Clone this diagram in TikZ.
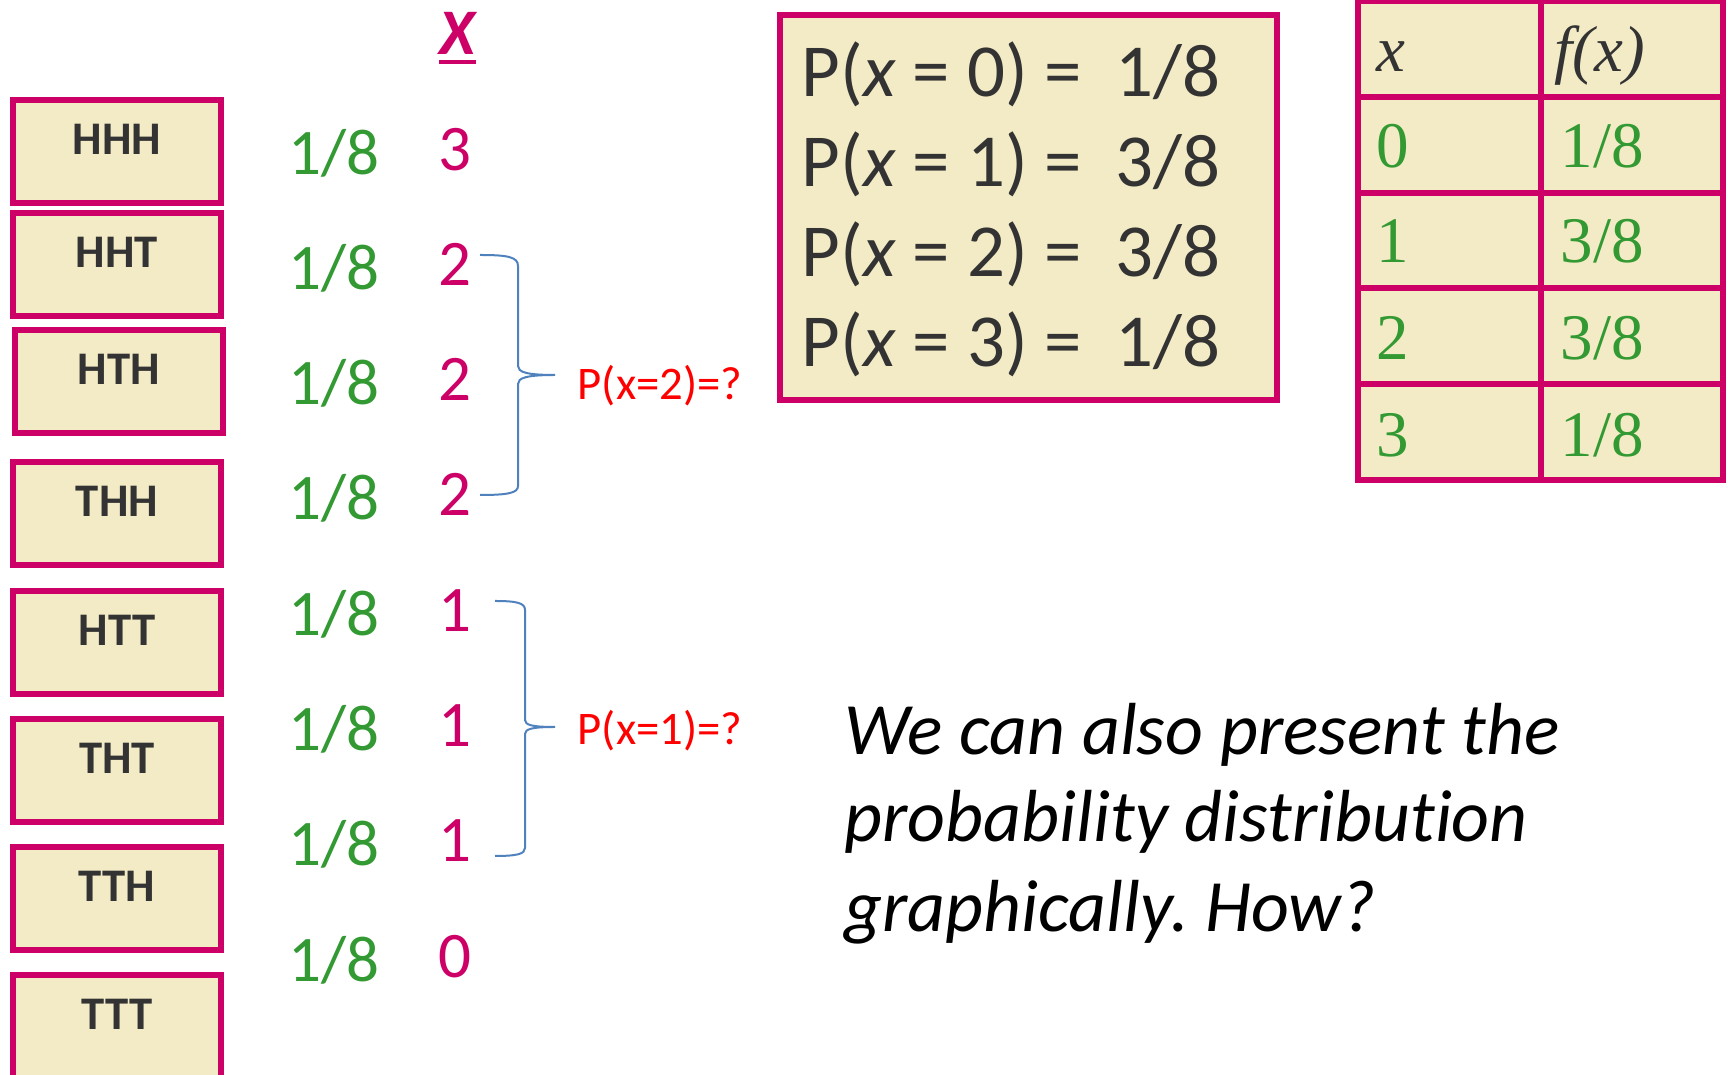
\documentclass[tikz,border=0pt]{standalone}
\usepackage{fontspec}
\setmainfont{Carlito}
\newfontfamily\tabfont{Liberation Serif}
\newfontfamily\sayfont[Ligatures=NoCommon]{Carlito}
\usepackage{tikz}
\definecolor{boxpink}{HTML}{CC0066}
\definecolor{boxfill}{HTML}{F3EBC6}
\definecolor{probgreen}{HTML}{339933}
\definecolor{bracecol}{HTML}{4F81BD}
\definecolor{darktext}{HTML}{333333}

\begin{document}
\frenchspacing
\begin{tikzpicture}[
    outcome/.style={
        draw=boxpink,
        line width=0.06cm,
        fill=boxfill,
        outer sep=0pt,
        minimum width=2.08cm,
        inner ysep=0.1cm,
        text height=0.45cm,
        text depth=0.38cm,
        anchor=north,
        text=darktext,
        font=\fontsize{13.3pt}{16pt}\selectfont\bfseries
    },
    prob/.style={
        anchor=base,
        inner sep=0pt,
        text=probgreen,
        font=\fontsize{18.5pt}{22pt}\selectfont
    },
    xval/.style={
        anchor=base,
        inner sep=0pt,
        text=boxpink,
        font=\fontsize{18.5pt}{22pt}\selectfont
    },
    curly/.style={
        draw=bracecol,
        line width=0.02cm
    },
    qlabel/.style={
        anchor=base west,
        inner sep=0pt,
        text=red,
        font=\fontsize{13.3pt}{16pt}\selectfont
    },
    pline/.style={
        anchor=base west,
        inner sep=0pt,
        text=darktext,
        font=\fontsize{21.3pt}{25pt}\selectfont
    },
    cell/.style={
        anchor=base west,
        inner sep=0pt,
        text=probgreen,
        font=\tabfont\fontsize{18.5pt}{22pt}\selectfont
    },
    say/.style={
        anchor=base west,
        inner sep=0pt,
        font=\sayfont\itshape\fontsize{21pt}{25pt}\selectfont
    }
]

    \useasboundingbox (0,0) rectangle (17.28,-10.75);

    % Outcomes
    \node[outcome] (o1) at (1.17,-1.00) {HHH};
    \node[outcome] (o2) at (1.17,-2.13) {HHT};
    \node[outcome] (o3) at (1.19,-3.30) {HTH};
    \node[outcome] (o4) at (1.17,-4.62) {THH};
    \node[outcome] (o5) at (1.17,-5.91) {HTT};
    \node[outcome] (o6) at (1.17,-7.19) {THT};
    \node[outcome] (o7) at (1.17,-8.47) {TTH};
    \node[outcome] (o8) at (1.17,-9.75) {TTT};

    % Header X
    \node[
        anchor=base,
        inner sep=0pt,
        text=boxpink,
        font=\fontsize{18.5pt}{22pt}\selectfont\bfseries\itshape
    ] (xh) at (4.575,-0.55) {X};
    \draw[
        boxpink,
        line width=0.04cm
    ] ([yshift=-0.07cm]xh.base west) -- ([yshift=-0.07cm]xh.base east);

    % Probabilities
    \node[prob] (pr1) at (3.34,-1.75) {1/8};
    \node[prob] (pr2) at (3.34,-2.90) {1/8};
    \node[prob] (pr3) at (3.34,-4.05) {1/8};
    \node[prob] (pr4) at (3.34,-5.20) {1/8};
    \node[prob] (pr5) at (3.34,-6.36) {1/8};
    \node[prob] (pr6) at (3.34,-7.51) {1/8};
    \node[prob] (pr7) at (3.34,-8.66) {1/8};
    \node[prob] (pr8) at (3.34,-9.82) {1/8};

    % Values of X
    \node[xval] (x1) at (4.55,-1.71) {3};
    \node[xval] (x2) at (4.55,-2.86) {2};
    \node[xval] (x3) at (4.55,-4.01) {2};
    \node[xval] (x4) at (4.55,-5.16) {2};
    \node[xval] (x5) at (4.55,-6.32) {1};
    \node[xval] (x6) at (4.55,-7.47) {1};
    \node[xval] (x7) at (4.55,-8.62) {1};
    \node[xval] (x8) at (4.55,-9.78) {0};

    % Brace x = 2
    \draw[curly] (4.80,-2.55) .. controls (5.08,-2.55) and (5.18,-2.57) .. (5.18,-2.66)
        -- (5.18,-3.66) .. controls (5.18,-3.72) and (5.26,-3.75) .. (5.55,-3.75)
        .. controls (5.26,-3.75) and (5.18,-3.78) .. (5.18,-3.84)
        -- (5.18,-4.86) .. controls (5.18,-4.93) and (5.08,-4.95) .. (4.80,-4.95);
    \node[qlabel] (q2) at (5.77,-4.00) {P(x=2)=?};

    % Brace x = 1
    \draw[curly] (4.95,-6.01) .. controls (5.17,-6.01) and (5.25,-6.03) .. (5.25,-6.10)
        -- (5.25,-7.20) .. controls (5.25,-7.25) and (5.32,-7.27) .. (5.55,-7.27)
        .. controls (5.32,-7.27) and (5.25,-7.29) .. (5.25,-7.34)
        -- (5.25,-8.48) .. controls (5.25,-8.54) and (5.17,-8.56) .. (4.95,-8.56);
    \node[qlabel] (q1) at (5.77,-7.45) {P(x=1)=?};

    % Box of probabilities
    \node[
        draw=boxpink,
        line width=0.06cm,
        fill=boxfill,
        outer sep=0pt,
        inner sep=0pt,
        minimum width=4.97cm,
        minimum height=3.85cm,
        anchor=north west
    ] (pbox) at (7.80,-0.15) {};
    \node[pline] (pl0) at (8.01,-0.97) {P(\textit{x} = 0) =\ \ 1/8};
    \node[pline] (pl1) at (8.01,-1.87) {P(\textit{x} = 1) =\ \ 3/8};
    \node[pline] (pl2) at (8.01,-2.77) {P(\textit{x} = 2) =\ \ 3/8};
    \node[pline] (pl3) at (8.01,-3.67) {P(\textit{x} = 3) =\ \ 1/8};

    % Table
    \fill[boxfill] (13.58,-0.01) rectangle (17.23,-4.80);
    \draw[
        boxpink,
        line width=0.06cm
    ] (13.58,-0.01) rectangle (17.23,-4.80)
        (15.41,-0.01) -- (15.41,-4.80)
        (13.58,-0.97) -- (17.23,-0.97)
        (13.58,-1.93) -- (17.23,-1.93)
        (13.58,-2.88) -- (17.23,-2.88)
        (13.58,-3.84) -- (17.23,-3.84);

    % Table cells
    \node[cell, text=darktext] (tx) at (13.76,-0.72) {\textit{x}};
    \node[cell, text=darktext] (tf) at (15.54,-0.72) {\textit{f(x)}};
    \node[cell] (t0) at (13.76,-1.68) {0};
    \node[cell] (f0) at (15.60,-1.68) {1/8};
    \node[cell] (t1) at (13.76,-2.63) {1};
    \node[cell] (f1) at (15.60,-2.63) {3/8};
    \node[cell] (t2) at (13.76,-3.60) {2};
    \node[cell] (f2) at (15.60,-3.60) {3/8};
    \node[cell] (t3) at (13.76,-4.57) {3};
    \node[cell] (f3) at (15.60,-4.57) {1/8};

    % Question
    \node[say] (s1) at (8.44,-7.55) {We can also present the};
    \node[say] (s2) at (8.44,-8.42) {probability distribution};
    \node[say] (s3) at (8.44,-9.32) {graphically. How?};

\end{tikzpicture}
\end{document}
